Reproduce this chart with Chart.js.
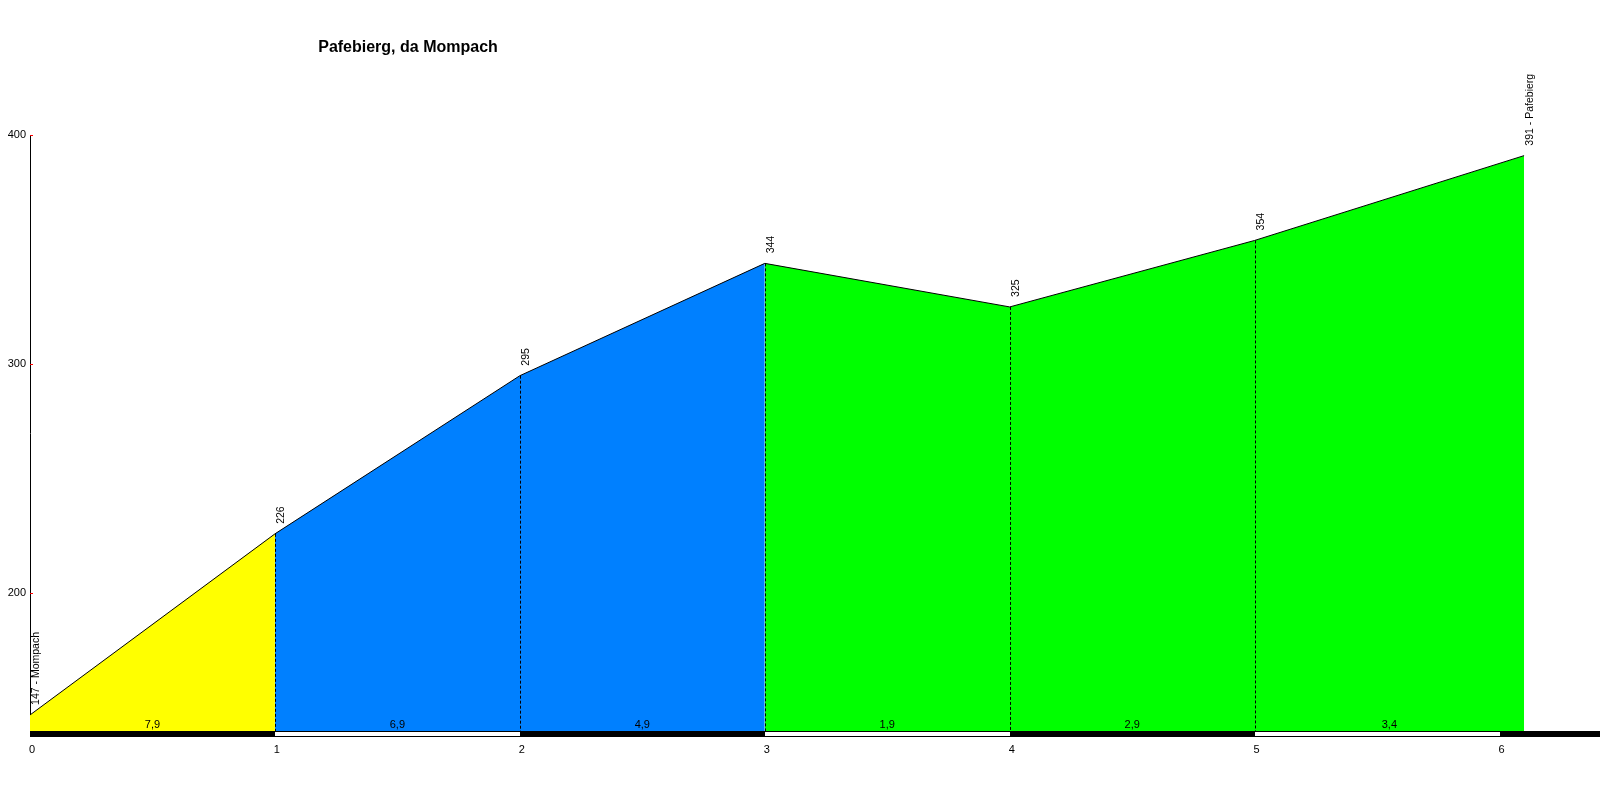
<!DOCTYPE html>
<html>
<head>
<meta charset="utf-8">
<script src="https://cdn.jsdelivr.net/npm/chart.js@4.4.1/dist/chart.umd.min.js"></script>
<style>
  html, body { margin: 0; padding: 0; background: #fff; }
  #wrap { width: 1600px; height: 800px; }
</style>
</head>
<body>
<div id="wrap"><canvas id="profile"></canvas></div>
<script>
const chartTitle = 'Pafebierg, da Mompach';
const distances = [0, 1, 2, 3, 4, 5, 6.1];
const elevations = [147, 226, 295, 344, 325, 354, 391];
const pointLabels = ['147 - Mompach', '226', '295', '344', '325', '354', '391 - Pafebierg'];
const gradients = ['7,9', '6,9', '4,9', '1,9', '2,9', '3,4'];
const segmentColors = ['#ffff00', '#0080ff', '#0080ff', '#00ff00', '#00ff00', '#00ff00'];
const xTicks = [0, 1, 2, 3, 4, 5, 6];
const yTicks = [200, 300, 400];

const FONT = 'Arial, "Liberation Sans", sans-serif';

// dashed drops, km bar, labels and title
const profilePlugin = {
  id: 'profile',
  afterDatasetsDraw: chart => {
    const ctx = chart.ctx;
    const x = chart.scales.x;
    const y = chart.scales.y;
    const area = chart.chartArea;
    const bottom = area.bottom;

    ctx.save();
    // dashed vertical lines at inner points
    ctx.strokeStyle = '#000';
    ctx.lineWidth = 1;
    ctx.setLineDash([3, 2]);
    for (let i = 1; i < distances.length - 1; i++) {
      const px = Math.round(x.getPixelForValue(distances[i])) + 0.5;
      ctx.beginPath();
      ctx.moveTo(px, y.getPixelForValue(elevations[i]));
      ctx.lineTo(px, bottom);
      ctx.stroke();
    }
    ctx.setLineDash([]);

    // alternating km bar
    for (let k = 0; k < Math.ceil(x.max); k++) {
      const x0 = Math.round(x.getPixelForValue(k));
      const x1 = Math.round(x.getPixelForValue(Math.min(k + 1, x.max)));
      ctx.fillStyle = '#000';
      ctx.fillRect(x0, bottom, x1 - x0, 6);
      if (k % 2 === 1) {
        ctx.fillStyle = '#fff';
        ctx.fillRect(x0, bottom + 1, x1 - x0, 4);
      }
    }

    // red tick marks on the y axis
    ctx.strokeStyle = '#ff0000';
    yTicks.forEach(v => {
      const py = Math.round(y.getPixelForValue(v)) + 0.5;
      ctx.beginPath();
      ctx.moveTo(area.left, py);
      ctx.lineTo(area.left + 3, py);
      ctx.stroke();
    });

    // gradient labels
    ctx.fillStyle = '#000';
    ctx.font = '11px ' + FONT;
    ctx.textAlign = 'center';
    ctx.textBaseline = 'alphabetic';
    gradients.forEach((g, i) => {
      const mid = (distances[i] + distances[i + 1]) / 2;
      ctx.fillText(g, x.getPixelForValue(mid), bottom - 3);
    });

    // rotated elevation labels
    ctx.font = '10.5px ' + FONT;
    ctx.textAlign = 'left';
    ctx.textBaseline = 'middle';
    pointLabels.forEach((t, i) => {
      const px = x.getPixelForValue(distances[i]);
      const py = y.getPixelForValue(elevations[i]);
      ctx.save();
      ctx.translate(px + 6, py - 10);
      ctx.rotate(-Math.PI / 2);
      ctx.fillText(t, 0, 0);
      ctx.restore();
    });

    // title
    ctx.font = 'bold 16px ' + FONT;
    ctx.textAlign = 'center';
    ctx.textBaseline = 'middle';
    ctx.fillText(chartTitle, 408, 48);
    ctx.restore();
  }
};

const ctx = document.getElementById('profile');
new Chart(ctx, {
  type: 'line',
  data: {
    datasets: [{
      data: distances.map((d, i) => ({ x: d, y: elevations[i] })),
      borderColor: '#000',
      borderWidth: 1,
      backgroundColor: segmentColors[0],
      fill: 'start',
      pointRadius: 0,
      tension: 0,
      segment: {
        backgroundColor: c => segmentColors[c.p0DataIndex],
      },
    }],
  },
  plugins: [profilePlugin],
  options: {
    animation: false,
    responsive: true,
    maintainAspectRatio: false,
    layout: { padding: { top: 135, left: 0, right: 0, bottom: 0 } },
    plugins: {
      legend: { display: false },
      tooltip: { enabled: false },
    },
    scales: {
      x: {
        type: 'linear',
        min: 0,
        max: 6.41,
        afterBuildTicks: s => { s.ticks = xTicks.map(v => ({ value: v })); },
        afterFit: s => { s.height = 69; },
        border: { display: false },
        grid: { display: false, drawTicks: false },
        ticks: {
          color: '#000',
          font: { family: FONT, size: 11 },
          padding: 12,
          labelOffset: 2,
          autoSkip: false,
          maxRotation: 0,
        },
      },
      y: {
        type: 'linear',
        min: 140,
        max: 400,
        afterBuildTicks: s => { s.ticks = yTicks.map(v => ({ value: v })); },
        afterFit: s => { s.width = 30; },
        border: { display: true, color: '#000', width: 1 },
        grid: { display: false, drawTicks: false },
        ticks: {
          color: '#000',
          font: { family: FONT, size: 11 },
          padding: 4,
        },
      },
    },
  },
});
</script>
</body>
</html>
